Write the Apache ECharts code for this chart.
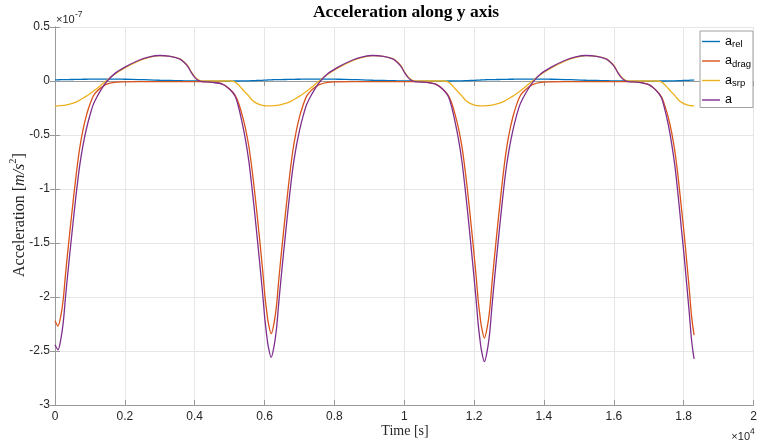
<!DOCTYPE html>
<html>
<head>
<meta charset="utf-8">
<script src="https://cdn.jsdelivr.net/npm/echarts@6/dist/echarts.min.js"></script>
<style>
  html, body { margin: 0; padding: 0; background: #ffffff; }
  #chart { width: 760px; height: 445px; }
</style>
</head>
<body>
<div id="chart"></div>
<script>
// Sample times [s] (three orbital periods, denser around the perigee passes)
const timeSec = [
  0, 85, 170, 240, 300, 370, 440, 520, 600, 700, 800, 900, 1000, 1100, 1200, 1330, 1460, 1700, 2000, 2400, 2700, 3000, 3300, 3580, 3700, 3800, 3900, 4000, 4100, 4200, 4500, 4800, 5000, 5150, 5250, 5350, 5450, 5550, 5650, 5730, 5810, 5880, 5950, 6010, 6060,
  6105, 6190, 6275, 6345, 6405, 6475, 6545, 6625, 6705, 6805, 6905, 7005, 7105, 7205, 7305, 7435, 7565, 7805, 8105, 8505, 8805, 9105, 9405, 9685, 9805, 9905, 10005, 10105, 10205, 10305, 10605, 10905, 11105, 11255, 11355, 11455, 11555, 11655, 11755, 11835, 11915, 11985, 12055, 12115, 12165,
  12210, 12295, 12380, 12450, 12510, 12580, 12650, 12730, 12810, 12910, 13010, 13110, 13210, 13310, 13410, 13540, 13670, 13910, 14210, 14610, 14910, 15210, 15510, 15790, 15910, 16010, 16110, 16210, 16310, 16410, 16710, 17010, 17210, 17360, 17460, 17560, 17660, 17760, 17860, 17940, 18020, 18090, 18160, 18220, 18270, 18300
];

// Accelerations along y, in units of 1e-7 m/s^2
const aRel = [
  0.010, 0.011, 0.012, 0.012, 0.013, 0.013, 0.014, 0.014, 0.015, 0.015, 0.016, 0.016, 0.017, 0.017, 0.017, 0.018, 0.018, 0.018, 0.016, 0.013, 0.011, 0.007, 0.005, 0.003, 0.002, 0.002, 0.001, 0.000, 0.000, -0.001, -0.002, -0.002, -0.001, 0.000, 0.000, 0.001, 0.002, 0.002, 0.003, 0.004, 0.005, 0.006, 0.007, 0.008, 0.009,
  0.010, 0.011, 0.012, 0.012, 0.013, 0.013, 0.014, 0.014, 0.015, 0.015, 0.016, 0.016, 0.017, 0.017, 0.017, 0.018, 0.018, 0.018, 0.016, 0.013, 0.011, 0.007, 0.005, 0.003, 0.002, 0.002, 0.001, 0.000, 0.000, -0.001, -0.002, -0.002, -0.001, 0.000, 0.000, 0.001, 0.002, 0.002, 0.003, 0.004, 0.005, 0.006, 0.007, 0.008, 0.009,
  0.010, 0.011, 0.012, 0.012, 0.013, 0.013, 0.014, 0.014, 0.015, 0.015, 0.016, 0.016, 0.017, 0.017, 0.017, 0.018, 0.018, 0.018, 0.016, 0.013, 0.011, 0.007, 0.005, 0.003, 0.002, 0.002, 0.001, 0.000, 0.000, -0.001, -0.002, -0.002, -0.001, 0.000, 0.000, 0.001, 0.002, 0.002, 0.003, 0.004, 0.005, 0.006, 0.007, 0.008, 0.009, 0.010
];

const aDrag = [
  -2.220, -2.270, -2.168, -2.009, -1.793, -1.566, -1.351, -1.112, -0.885, -0.636, -0.454, -0.318, -0.216, -0.136, -0.095, -0.059, -0.032, -0.012, -0.008, -0.006, -0.006, -0.006, -0.006, -0.006, -0.006, -0.006, -0.006, -0.006, -0.006, -0.006, -0.010, -0.028, -0.075, -0.129, -0.199, -0.304, -0.433, -0.604, -0.842, -1.065, -1.310, -1.533, -1.767, -1.989, -2.129,
  -2.235, -2.340, -2.235, -2.071, -1.849, -1.615, -1.392, -1.147, -0.913, -0.655, -0.468, -0.328, -0.222, -0.140, -0.098, -0.061, -0.033, -0.012, -0.008, -0.006, -0.006, -0.006, -0.006, -0.006, -0.006, -0.006, -0.006, -0.006, -0.006, -0.006, -0.010, -0.029, -0.076, -0.131, -0.202, -0.309, -0.440, -0.614, -0.857, -1.083, -1.333, -1.559, -1.797, -2.023, -2.166,
  -2.273, -2.380, -2.273, -2.106, -1.880, -1.642, -1.416, -1.166, -0.928, -0.666, -0.476, -0.333, -0.226, -0.143, -0.100, -0.062, -0.033, -0.012, -0.008, -0.006, -0.006, -0.006, -0.006, -0.006, -0.006, -0.006, -0.006, -0.006, -0.006, -0.006, -0.010, -0.034, -0.086, -0.145, -0.228, -0.336, -0.483, -0.676, -0.943, -1.188, -1.433, -1.678, -1.923, -2.156, -2.291, -2.352
];

const aSrp = [
  -0.233, -0.230, -0.228, -0.226, -0.223, -0.218, -0.212, -0.205, -0.195, -0.178, -0.160, -0.140, -0.118, -0.095, -0.070, -0.035, 0.000, 0.060, 0.120, 0.185, 0.218, 0.235, 0.228, 0.205, 0.175, 0.140, 0.085, 0.040, 0.012, 0.002, 0.000, 0.000, 0.000, -0.008, -0.035, -0.070, -0.105, -0.140, -0.178, -0.198, -0.212, -0.220, -0.226, -0.229, -0.230,
  -0.230, -0.230, -0.228, -0.226, -0.223, -0.218, -0.212, -0.205, -0.195, -0.178, -0.160, -0.140, -0.118, -0.095, -0.070, -0.035, 0.000, 0.060, 0.120, 0.185, 0.218, 0.235, 0.228, 0.205, 0.175, 0.140, 0.085, 0.040, 0.012, 0.002, 0.000, 0.000, 0.000, -0.008, -0.035, -0.070, -0.105, -0.140, -0.178, -0.198, -0.212, -0.220, -0.226, -0.229, -0.230,
  -0.230, -0.230, -0.228, -0.226, -0.223, -0.218, -0.212, -0.205, -0.195, -0.178, -0.160, -0.140, -0.118, -0.095, -0.070, -0.035, 0.000, 0.060, 0.120, 0.185, 0.218, 0.235, 0.228, 0.205, 0.175, 0.140, 0.085, 0.040, 0.012, 0.002, 0.000, 0.000, 0.000, -0.008, -0.035, -0.070, -0.105, -0.140, -0.178, -0.198, -0.212, -0.220, -0.226, -0.229, -0.230, -0.230
];

const aTotal = [
  -2.443, -2.489, -2.384, -2.223, -2.003, -1.771, -1.549, -1.303, -1.065, -0.799, -0.598, -0.442, -0.317, -0.214, -0.148, -0.076, -0.014, 0.066, 0.128, 0.192, 0.223, 0.236, 0.227, 0.202, 0.171, 0.136, 0.080, 0.034, 0.006, -0.005, -0.012, -0.030, -0.076, -0.137, -0.234, -0.373, -0.536, -0.742, -1.017, -1.259, -1.517, -1.747, -1.986, -2.210, -2.350,
  -2.455, -2.559, -2.451, -2.285, -2.059, -1.820, -1.590, -1.338, -1.093, -0.818, -0.612, -0.452, -0.323, -0.218, -0.151, -0.078, -0.015, 0.066, 0.128, 0.192, 0.223, 0.236, 0.227, 0.202, 0.171, 0.136, 0.080, 0.034, 0.006, -0.005, -0.012, -0.031, -0.077, -0.139, -0.237, -0.378, -0.543, -0.752, -1.032, -1.277, -1.540, -1.773, -2.016, -2.244, -2.387,
  -2.493, -2.599, -2.489, -2.320, -2.090, -1.847, -1.614, -1.357, -1.108, -0.829, -0.620, -0.457, -0.327, -0.221, -0.153, -0.079, -0.015, 0.066, 0.128, 0.192, 0.223, 0.236, 0.227, 0.202, 0.171, 0.136, 0.080, 0.034, 0.006, -0.005, -0.012, -0.036, -0.087, -0.153, -0.263, -0.405, -0.586, -0.814, -1.118, -1.382, -1.640, -1.892, -2.142, -2.377, -2.512, -2.572
];

const seriesNames = ['a_rel', 'a_drag', 'a_srp', 'a'];
const seriesColors = ['#0072BD', '#D95319', '#EDB120', '#7E2F8E'];
const seriesValues = [aRel, aDrag, aSrp, aTotal];

const AXIS_COLOR = '#9a9a9a';
const GRID_COLOR = '#e6e6e6';
const TEXT_COLOR = '#262626';
const SANS = '"Liberation Sans", Arial, Helvetica, sans-serif';
const SERIF = '"Liberation Serif", "DejaVu Serif", serif';

const chart = echarts.init(document.getElementById('chart'), null, { renderer: 'canvas' });

function fmtNum(v) {
  return String(Math.round(v * 10) / 10);
}

const boxAxis = {
  axisLine: { show: true, lineStyle: { color: AXIS_COLOR, width: 1 } },
  axisTick: { show: true, inside: true, length: 5, lineStyle: { color: AXIS_COLOR } },
  axisLabel: { show: false },
  splitLine: { show: false }
};

const option = {
  animation: false,
  backgroundColor: '#ffffff',
  grid: { left: 55, right: 6.5, top: 27, bottom: 40, containLabel: false },
  xAxis: [
    {
      type: 'value', min: 0, max: 20000, interval: 2000, position: 'bottom',
      axisLine: { show: true, onZero: false, lineStyle: { color: AXIS_COLOR, width: 1 } },
      axisTick: { show: true, inside: true, length: 5, lineStyle: { color: AXIS_COLOR } },
      axisLabel: {
        color: TEXT_COLOR, fontFamily: SANS, fontSize: 12, margin: 6,
        formatter: v => fmtNum(v / 10000)
      },
      splitLine: { show: true, lineStyle: { color: GRID_COLOR, width: 1 } }
    },
    Object.assign({ type: 'value', min: 0, max: 20000, interval: 2000, position: 'top' }, boxAxis)
  ],
  yAxis: [
    {
      type: 'value', min: -3, max: 0.5, interval: 0.5, position: 'left',
      axisLine: { show: true, onZero: false, lineStyle: { color: AXIS_COLOR, width: 1 } },
      axisTick: { show: true, inside: true, length: 5, lineStyle: { color: AXIS_COLOR } },
      axisLabel: {
        color: TEXT_COLOR, fontFamily: SANS, fontSize: 12, margin: 5,
        formatter: v => fmtNum(v)
      },
      splitLine: { show: true, lineStyle: { color: GRID_COLOR, width: 1 } }
    },
    Object.assign({ type: 'value', min: -3, max: 0.5, interval: 0.5, position: 'right' }, boxAxis)
  ],
  legend: {
    orient: 'vertical',
    right: 7,
    top: 31,
    padding: [4, 2, 1, 2],
    icon: 'rect',
    itemWidth: 18,
    itemHeight: 1.4,
    itemGap: 5,
    backgroundColor: '#ffffff',
    borderColor: '#a0a0a0',
    borderWidth: 1,
    data: seriesNames,
    formatter: name => name === 'a' ? '{m|a}' : '{m|a}{s|' + name.slice(2) + '}',
    textStyle: {
      color: '#000000',
      rich: {
        m: { fontFamily: SANS, fontSize: 12.5, lineHeight: 16, verticalAlign: 'middle', color: '#000' },
        s: { fontFamily: SANS, fontSize: 9.5, lineHeight: 9, verticalAlign: 'bottom', color: '#000' }
      }
    }
  },
  series: seriesNames.map((name, k) => ({
    type: 'line',
    name: name,
    xAxisIndex: 0,
    yAxisIndex: 0,
    data: timeSec.map((t, i) => [t, seriesValues[k][i]]),
    symbol: 'none',
    showSymbol: false,
    smooth: 0.3,
    lineStyle: { color: seriesColors[k], width: 1.3 },
    itemStyle: { color: seriesColors[k] },
    z: 2 + k
  })),
  graphic: [
    {
      type: 'text', x: 406, y: 12,
      style: {
        text: 'Acceleration along y axis', fill: '#000',
        font: 'bold 17.5px ' + SERIF, align: 'center', verticalAlign: 'middle'
      }
    },
    {
      type: 'text', x: 405, y: 431,
      style: {
        text: 'Time [s]', fill: TEXT_COLOR,
        font: '14px ' + SERIF, align: 'center', verticalAlign: 'middle'
      }
    },
    {
      type: 'text', x: 18, y: 215, rotation: Math.PI / 2,
      style: {
        text: '{n|Acceleration [}{i|m/s}{p|2}{n|]}',
        align: 'center', verticalAlign: 'middle',
        rich: {
          n: { fontFamily: SERIF, fontSize: 16, lineHeight: 20, verticalAlign: 'bottom', fill: TEXT_COLOR },
          i: { fontFamily: SERIF, fontStyle: 'italic', fontSize: 16, lineHeight: 20, verticalAlign: 'bottom', fill: TEXT_COLOR },
          p: { fontFamily: SERIF, fontSize: 10.5, lineHeight: 11, verticalAlign: 'top', fill: TEXT_COLOR }
        }
      }
    },
    {
      type: 'text', x: 56, y: 20,
      style: { text: '×10', fill: TEXT_COLOR, font: '11px ' + SANS, align: 'left', verticalAlign: 'middle' }
    },
    {
      type: 'text', x: 75, y: 15,
      style: { text: '-7', fill: TEXT_COLOR, font: '8.5px ' + SANS, align: 'left', verticalAlign: 'middle' }
    },
    {
      type: 'text', x: 750, y: 437,
      style: { text: '×10', fill: TEXT_COLOR, font: '11px ' + SANS, align: 'right', verticalAlign: 'middle' }
    },
    {
      type: 'text', x: 750, y: 432,
      style: { text: '4', fill: TEXT_COLOR, font: '8.5px ' + SANS, align: 'left', verticalAlign: 'middle' }
    }
  ]
};

chart.setOption(option);
</script>
</body>
</html>
